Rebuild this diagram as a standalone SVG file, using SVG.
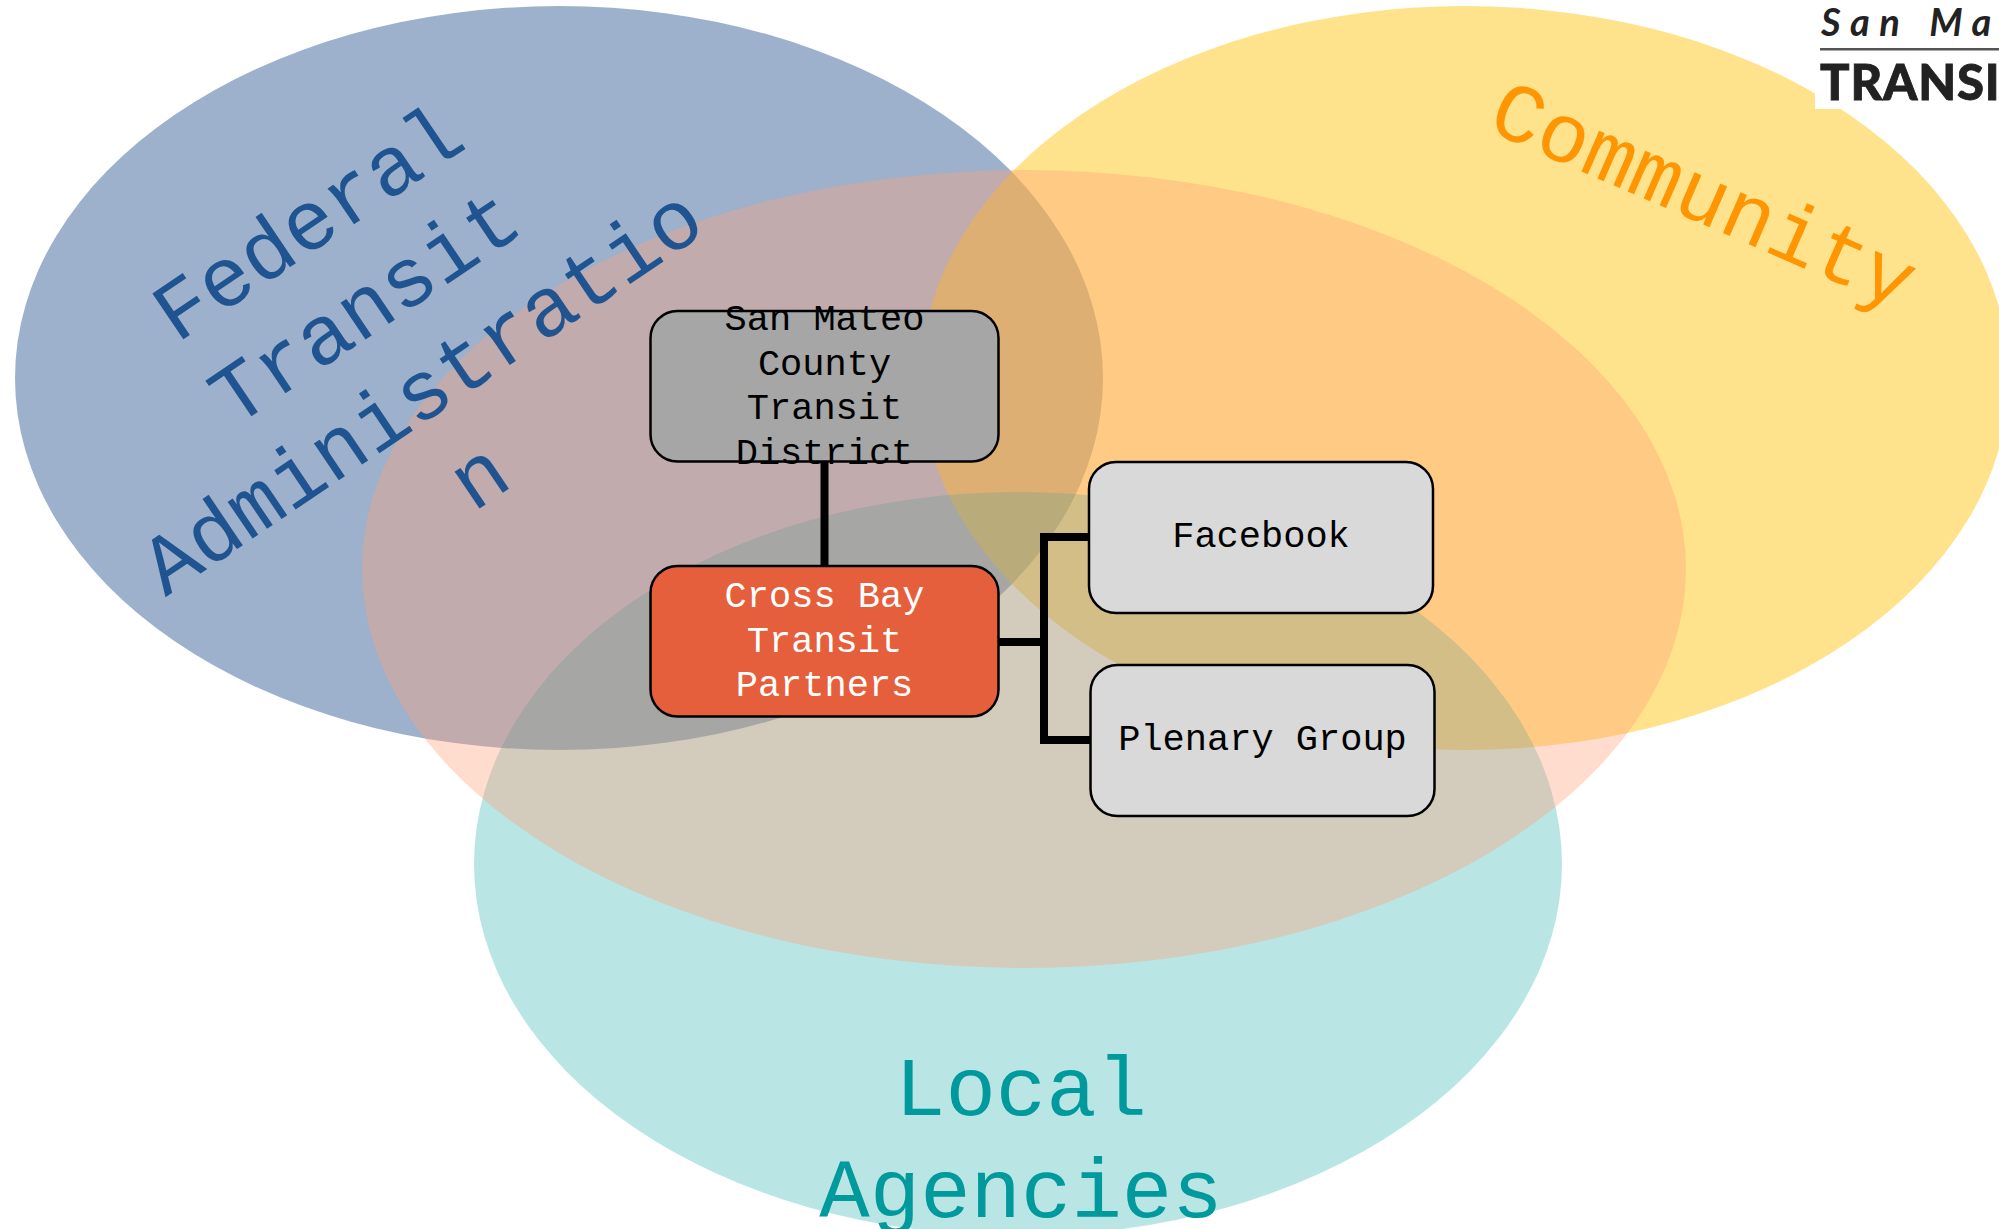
<svg xmlns="http://www.w3.org/2000/svg" width="1999" height="1229" viewBox="0 0 1999 1229">
<style>
text{font-family:"Liberation Mono",monospace;text-anchor:middle}
.n{font-size:37px;fill:#000}
.w{fill:#fff}
.b{font-size:84px}
.r{stroke:#000;stroke-width:2.5}
.c{fill:none;stroke:#000;stroke-width:8}
</style>
<rect width="1999" height="1229" fill="#fff"/>
<g id="fta"><ellipse cx="559" cy="378" rx="544" ry="372" fill="#1f4e8c" opacity=".44"/></g>
<g id="community"><ellipse cx="1465" cy="378" rx="544" ry="372" fill="#ffc000" opacity=".45"/></g>
<g id="local"><ellipse cx="1018" cy="864" rx="544" ry="372" fill="#00a0a0" opacity=".27"/></g>
<g id="partners"><ellipse cx="1024" cy="569" rx="662" ry="399" fill="#ffa078" opacity=".37"/></g>
<g id="logo">
<rect x="1815" y="0" width="184" height="109" fill="#fff"/>
<text x="1821" y="36" style="font-family:Lato,sans-serif;font-style:italic;font-weight:700;font-size:38px;letter-spacing:9.500px;word-spacing:2px;text-anchor:start;fill:#222">San Mat</text>
<rect x="1820" y="48" width="179" height="2.500" fill="#555"/>
<text x="1820" y="100" style="font-family:Lato,sans-serif;font-weight:900;font-size:49px;letter-spacing:.8px;text-anchor:start;fill:#222;stroke:#222;stroke-width:.8">TRANSIT</text>
</g>
<g id="labels" class="b">
<g fill="#1f5490" transform="translate(323 245) rotate(-34)">
<text x="0" y="0">Federal</text>
<text x="0" y="102">Transit</text>
<text x="0" y="204">Administratio</text>
<text x="0" y="306">n</text>
</g>
<text fill="#ff9500" transform="translate(1693 220) rotate(23.500)" x="0" y="0">Community</text>
<text fill="#00999c" x="1021" y="1115">Local</text>
<text fill="#00999c" x="1021" y="1217">Agencies</text>
</g>
<g id="connectors">
<path class="c" d="M824.500 461V566M998 642H1045M1088 537H1044V740H1090"/>
</g>
<g id="smctd"><rect class="r" x="650.500" y="311" width="348" height="150.500" rx="27" fill="#a6a6a6"/>
<text class="n" x="824.500" y="330">San Mateo</text><text class="n" x="824.500" y="374.500">County</text><text class="n" x="824.500" y="419">Transit</text><text class="n" x="824.500" y="463.500">District</text></g>
<g id="cbtp"><rect class="r" x="650.500" y="566" width="348" height="150.500" rx="27" fill="#e55f3c"/>
<text class="n w" x="824.500" y="607">Cross Bay</text><text class="n w" x="824.500" y="651.500">Transit</text><text class="n w" x="824.500" y="696">Partners</text></g>
<g id="facebook"><rect class="r" x="1089" y="462" width="344" height="151" rx="27" fill="#d9d9d9"/>
<text class="n" x="1261" y="547">Facebook</text></g>
<g id="plenary"><rect class="r" x="1090.500" y="665" width="344" height="151" rx="27" fill="#d9d9d9"/>
<text class="n" x="1262.500" y="750">Plenary Group</text></g>
</svg>
